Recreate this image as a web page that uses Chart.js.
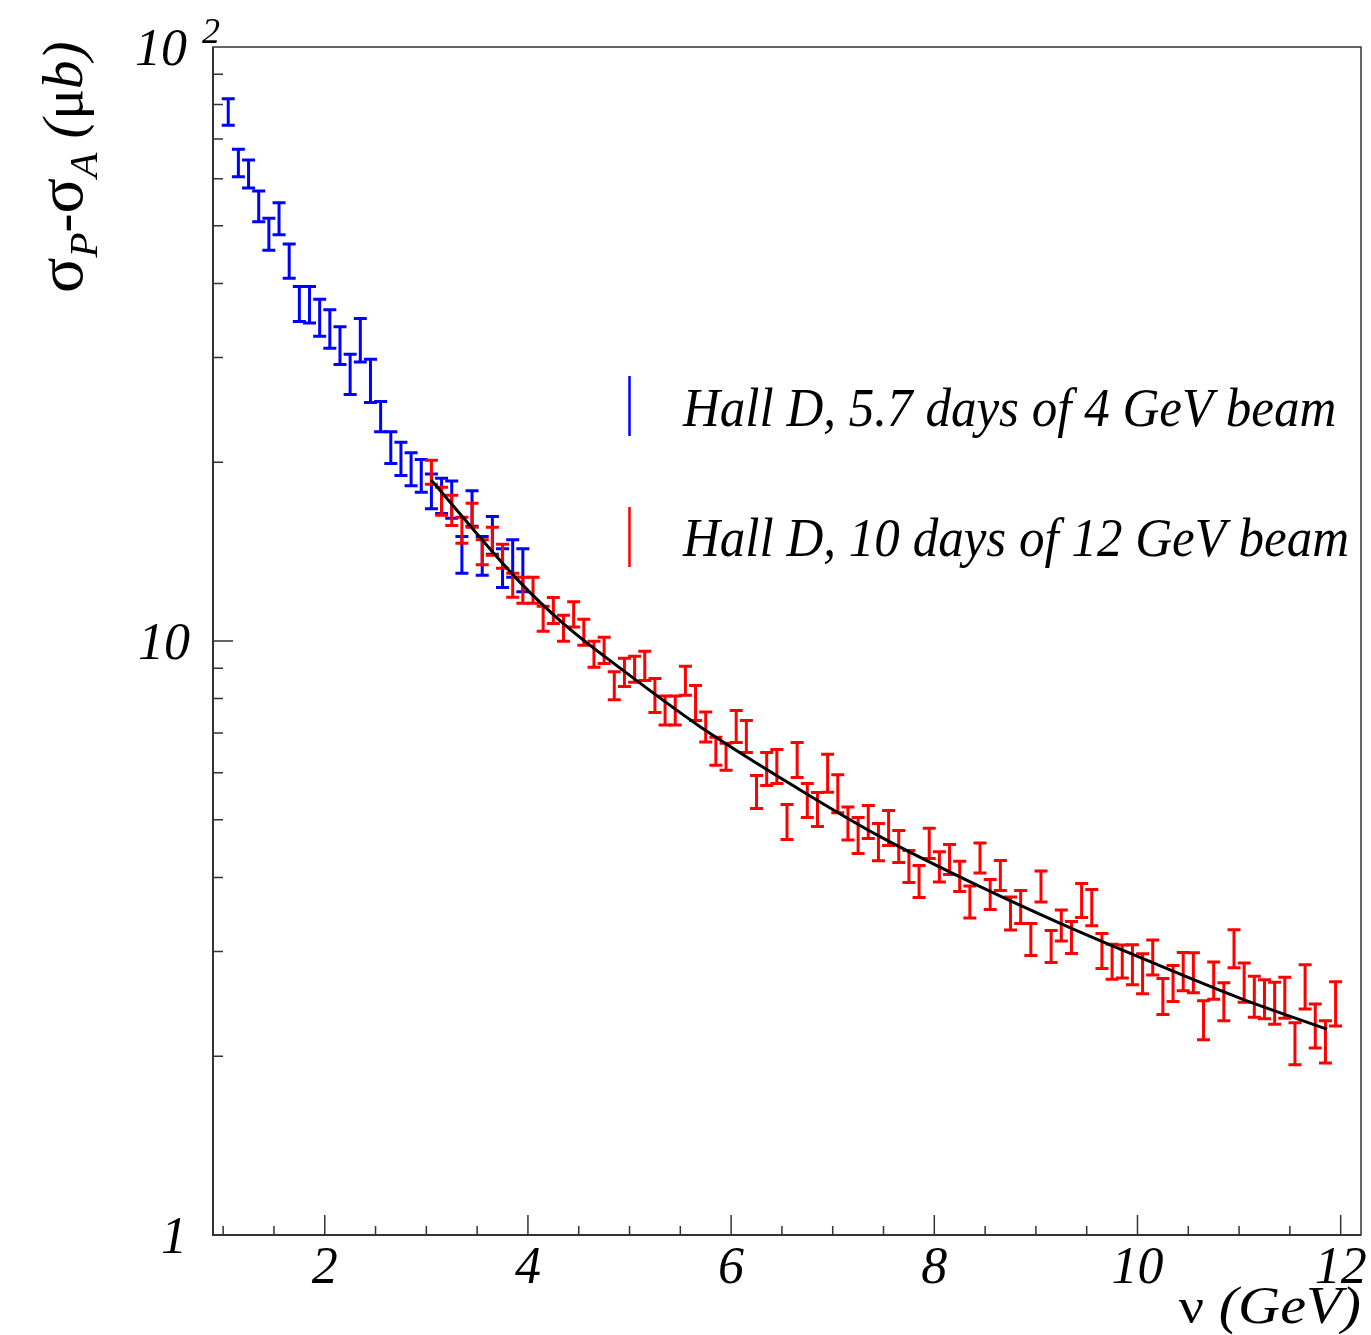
<!DOCTYPE html>
<html>
<head>
<meta charset="utf-8">
<title>sigma_P - sigma_A</title>
<script src="https://cdn.jsdelivr.net/npm/chart.js@4.4.0/dist/chart.umd.min.js"></script>
<style>
  html, body { margin: 0; padding: 0; background: #fff; }
  #wrap { width: 1371px; height: 1335px; }
</style>
</head>
<body>
<div id="wrap"><canvas id="sigmaChart" width="1371" height="1335"></canvas></div>
<script>
// Hall D, 5.7 days of 4 GeV beam
const blueX = [1.05, 1.15, 1.25, 1.35, 1.45, 1.55, 1.65, 1.75, 1.85, 1.95,
               2.05, 2.15, 2.25, 2.35, 2.45, 2.55, 2.65, 2.75, 2.85, 2.95,
               3.05, 3.15, 3.25, 3.35, 3.45, 3.55, 3.65, 3.75, 3.85, 3.95];
const blueY = [77.8, 63.9, 61.2, 54.0, 48.5, 51.5, 43.7, 37.0, 36.9, 35.1,
               33.6, 31.5, 28.2, 32.2, 27.5, 23.9, 21.2, 20.3, 19.5, 19.0,
               17.9, 17.6, 17.35, 14.0, 16.75, 13.95, 15.1, 13.3, 13.8, 13.2];
const blueErr = [4.0, 3.4, 3.3, 3.2, 3.0, 3.2, 2.9, 2.5, 2.6, 2.5,
                 2.5, 2.3, 2.2, 2.7, 2.3, 1.4, 1.3, 1.3, 1.25, 1.2,
                 1.2, 1.2, 1.25, 1.0, 1.15, 1.05, 1.1, 1.0, 1.0, 1.1];

// Hall D, 10 days of 12 GeV beam
const redX = [3.05, 3.15, 3.25, 3.35, 3.45, 3.55, 3.65, 3.75, 3.85, 3.95,
              4.05, 4.15, 4.25, 4.35, 4.45, 4.55, 4.65, 4.75, 4.85, 4.95,
              5.05, 5.15, 5.25, 5.35, 5.45, 5.55, 5.65, 5.75, 5.85, 5.95,
              6.05, 6.15, 6.25, 6.35, 6.45, 6.55, 6.65, 6.75, 6.85, 6.95,
              7.05, 7.15, 7.25, 7.35, 7.45, 7.55, 7.65, 7.75, 7.85, 7.95,
              8.05, 8.15, 8.25, 8.35, 8.45, 8.55, 8.65, 8.75, 8.85, 8.95,
              9.05, 9.15, 9.25, 9.35, 9.45, 9.55, 9.65, 9.75, 9.85, 9.95,
              10.05, 10.15, 10.25, 10.35, 10.45, 10.55, 10.65, 10.75, 10.85, 10.95,
              11.05, 11.15, 11.25, 11.35, 11.45, 11.55, 11.65, 11.75, 11.85, 11.95];
const redY = [19.25, 17.21, 16.62, 15.38, 16.30, 14.12, 14.74, 13.90, 12.43, 12.19,
              12.19, 10.91, 11.27, 10.52, 11.10, 10.36, 9.509, 9.656, 8.418, 8.868,
              8.973, 9.095, 8.113, 7.653, 7.653, 8.582, 7.882, 7.180, 6.529, 6.391,
              7.194, 6.921, 5.579, 6.101, 6.161, 4.968, 6.317, 5.399, 5.214, 6.007,
              5.548, 4.939, 4.715, 4.968, 4.598, 4.853, 4.518, 4.180, 3.945, 4.571,
              4.173, 4.295, 4.022, 3.642, 4.320, 3.750, 4.037, 3.484, 3.573, 3.150,
              3.868, 3.065, 3.325, 3.175, 3.664, 3.566, 3.013, 2.892, 2.892, 2.859,
              2.761, 2.938, 2.526, 2.657, 2.783, 2.772, 2.306, 2.688, 2.477, 3.042,
              2.667, 2.526, 2.501, 2.463, 2.516, 2.105, 2.626, 2.257, 2.121, 2.458];
const redErr = [0.895, 0.934, 0.966, 0.775, 0.758, 0.684, 0.800, 0.647, 0.578, 0.614,
                0.614, 0.529, 0.568, 0.530, 0.538, 0.522, 0.479, 0.487, 0.457, 0.481,
                0.452, 0.511, 0.535, 0.430, 0.430, 0.482, 0.535, 0.417, 0.354, 0.334,
                0.446, 0.429, 0.357, 0.390, 0.406, 0.337, 0.428, 0.356, 0.344, 0.442,
                0.409, 0.316, 0.329, 0.318, 0.330, 0.329, 0.280, 0.259, 0.245, 0.266,
                0.243, 0.250, 0.234, 0.226, 0.251, 0.218, 0.235, 0.223, 0.229, 0.195,
                0.232, 0.190, 0.200, 0.197, 0.241, 0.249, 0.204, 0.196, 0.185, 0.222,
                0.214, 0.199, 0.176, 0.185, 0.205, 0.215, 0.174, 0.193, 0.182, 0.224,
                0.202, 0.201, 0.189, 0.200, 0.200, 0.171, 0.224, 0.192, 0.173, 0.210];

// fit curve
const fitX = [3.047, 3.923, 4.349, 4.908, 5.695, 6.680, 7.467, 8.452,
              9.239, 10.126, 11.013, 11.866];
const fitY = [18.67, 12.55, 10.70, 9.00, 7.173, 5.614, 4.684, 3.858,
              3.347, 2.885, 2.503, 2.220];

// axes
const xMin = 0.9, xMax = 12.2;
const yMin = 1, yMax = 100;
const xLabelTicks = [2, 4, 6, 8, 10, 12];
const xSmallTicks = [1, 1.5, 2.5, 3, 3.5, 4.5, 5, 5.5, 6.5, 7, 7.5, 8.5, 9, 9.5,
                     10.5, 11, 11.5];
const yBigTicks = [10];
const ySmallTicks = [2, 3, 4, 5, 6, 7, 8, 9, 20, 30, 40, 50, 60, 70, 80, 90];

const legendItems = [
    { text: 'Hall D, 5.7 days of 4 GeV beam', color: '#0000ff' },
    { text: 'Hall D, 10 days of 12 GeV beam', color: '#ff0000' }
];

const SERIF = '"Liberation Serif", "DejaVu Serif", serif';
const ital = px => `italic ${px}px ${SERIF}`;
const upright = px => `${px}px ${SERIF}`;

function runsWidth(ctx, runs) {
    let w = 0;
    runs.forEach(r => { ctx.font = r.font; w += ctx.measureText(r.text).width; });
    return w;
}

function drawRuns(ctx, runs, x, y) {
    let cx = x;
    runs.forEach(r => {
        ctx.font = r.font;
        ctx.fillText(r.text, cx, y + (r.dy || 0));
        cx += ctx.measureText(r.text).width;
    });
}

const toPoints = (xs, ys) => xs.map((v, i) => ({ x: v, y: ys[i] }));

// vertical error bars with small caps, ROOT style
const errorBarPlugin = {
    id: 'errorBars',
    beforeDatasetsDraw(chart) {
        const { ctx } = chart;
        const xs = chart.scales.x, ys = chart.scales.y;
        chart.data.datasets.forEach(ds => {
            if (!ds.errors) return;
            ctx.save();
            ctx.strokeStyle = ds.borderColor;
            ctx.lineWidth = 3;
            ds.data.forEach((p, i) => {
                const px = xs.getPixelForValue(p.x);
                const top = ys.getPixelForValue(p.y + ds.errors[i]);
                const bot = ys.getPixelForValue(p.y - ds.errors[i]);
                ctx.beginPath();
                ctx.moveTo(px, top); ctx.lineTo(px, bot);
                ctx.moveTo(px - 6.5, top); ctx.lineTo(px + 6.5, top);
                ctx.moveTo(px - 6.5, bot); ctx.lineTo(px + 6.5, bot);
                ctx.stroke();
            });
            ctx.restore();
        });
    }
};

// frame, inward ticks, labels, titles and legend
const framePlugin = {
    id: 'rootFrame',
    afterDraw(chart) {
        const { ctx, chartArea: a } = chart;
        const xs = chart.scales.x, ys = chart.scales.y;
        ctx.save();

        ctx.strokeStyle = '#333';
        ctx.lineWidth = 1.5;
        ctx.strokeRect(a.left, a.top, a.right - a.left, a.bottom - a.top);
        ctx.lineWidth = 2;
        ctx.beginPath();
        ctx.moveTo(a.left, a.top); ctx.lineTo(a.left, a.bottom); ctx.lineTo(a.right, a.bottom);
        ctx.stroke();

        ctx.lineWidth = 1.5;
        ctx.beginPath();
        xLabelTicks.forEach(v => {
            const px = xs.getPixelForValue(v);
            ctx.moveTo(px, a.bottom); ctx.lineTo(px, a.bottom - 20);
        });
        xSmallTicks.forEach(v => {
            const px = xs.getPixelForValue(v);
            ctx.moveTo(px, a.bottom); ctx.lineTo(px, a.bottom - 9);
        });
        yBigTicks.forEach(v => {
            const py = ys.getPixelForValue(v);
            ctx.moveTo(a.left, py); ctx.lineTo(a.left + 20, py);
        });
        ySmallTicks.forEach(v => {
            const py = ys.getPixelForValue(v);
            ctx.moveTo(a.left, py); ctx.lineTo(a.left + 10, py);
        });
        ctx.stroke();

        ctx.fillStyle = '#000';
        ctx.textBaseline = 'alphabetic';

        // x tick labels
        ctx.font = ital(52);
        ctx.textAlign = 'center';
        xLabelTicks.forEach(v => {
            ctx.fillText(String(v), xs.getPixelForValue(v), a.bottom + 48);
        });

        // y tick labels
        ctx.textAlign = 'right';
        ctx.fillText('1', a.left - 26, ys.getPixelForValue(1) + 18);
        ctx.fillText('10', a.left - 23, ys.getPixelForValue(10) + 18);
        ctx.fillText('10', a.left - 26, ys.getPixelForValue(100) + 18);
        ctx.font = ital(36);
        ctx.textAlign = 'left';
        ctx.fillText('2', a.left - 11, ys.getPixelForValue(100) - 4);

        // x title, a bit wider than the plain font
        const xRuns = [
            { text: 'ν', font: upright(50) },
            { text: ' (GeV)', font: ital(52) }
        ];
        const xStretch = 1.12;
        ctx.save();
        ctx.translate(a.right - runsWidth(ctx, xRuns) * xStretch, a.bottom + 88);
        ctx.scale(xStretch, 1);
        drawRuns(ctx, xRuns, 0, 0);
        ctx.restore();

        // y title, rotated
        const yRuns = [
            { text: 'σ', font: upright(66) },
            { text: 'P', font: ital(41), dy: 15 },
            { text: '-', font: ital(57) },
            { text: 'σ', font: upright(66) },
            { text: 'A', font: ital(41), dy: 15 },
            { text: ' (', font: ital(57) },
            { text: 'μ', font: upright(57) },
            { text: 'b', font: ital(57) },
            { text: ')', font: ital(57) }
        ];
        ctx.save();
        ctx.translate(82, 293);
        ctx.rotate(-Math.PI / 2);
        drawRuns(ctx, yRuns, 0, 0);
        ctx.restore();

        // legend
        const legendTop = [376, 507];
        const legendBase = [426, 556];
        legendItems.forEach((item, i) => {
            ctx.strokeStyle = item.color;
            ctx.lineWidth = 2.5;
            ctx.beginPath();
            ctx.moveTo(629.5, legendTop[i]);
            ctx.lineTo(629.5, legendTop[i] + 60);
            ctx.stroke();
            ctx.save();
            ctx.translate(683, legendBase[i]);
            ctx.scale(0.945, 1);
            ctx.font = ital(54);
            ctx.fillStyle = '#000';
            ctx.textAlign = 'left';
            ctx.fillText(item.text, 0, 0);
            ctx.restore();
        });

        ctx.restore();
    }
};

const ctx = document.getElementById('sigmaChart').getContext('2d');
new Chart(ctx, {
    type: 'scatter',
    data: {
        datasets: [
            {
                label: 'fit',
                data: toPoints(fitX, fitY),
                showLine: true,
                borderColor: '#000',
                borderWidth: 3,
                pointRadius: 0,
                cubicInterpolationMode: 'monotone',
                fill: false
            },
            {
                label: legendItems[0].text,
                data: toPoints(blueX, blueY),
                errors: blueErr,
                borderColor: '#0000ff',
                pointRadius: 0
            },
            {
                label: legendItems[1].text,
                data: toPoints(redX, redY),
                errors: redErr,
                borderColor: '#ff0000',
                pointRadius: 0
            }
        ]
    },
    options: {
        responsive: false,
        animation: false,
        devicePixelRatio: 1,
        layout: { padding: { left: 213, right: 10, top: 47, bottom: 100 } },
        plugins: {
            legend: { display: false },
            tooltip: { enabled: false }
        },
        scales: {
            x: { type: 'linear', min: xMin, max: xMax, display: false },
            y: { type: 'logarithmic', min: yMin, max: yMax, display: false }
        }
    },
    plugins: [errorBarPlugin, framePlugin]
});
</script>
</body>
</html>
